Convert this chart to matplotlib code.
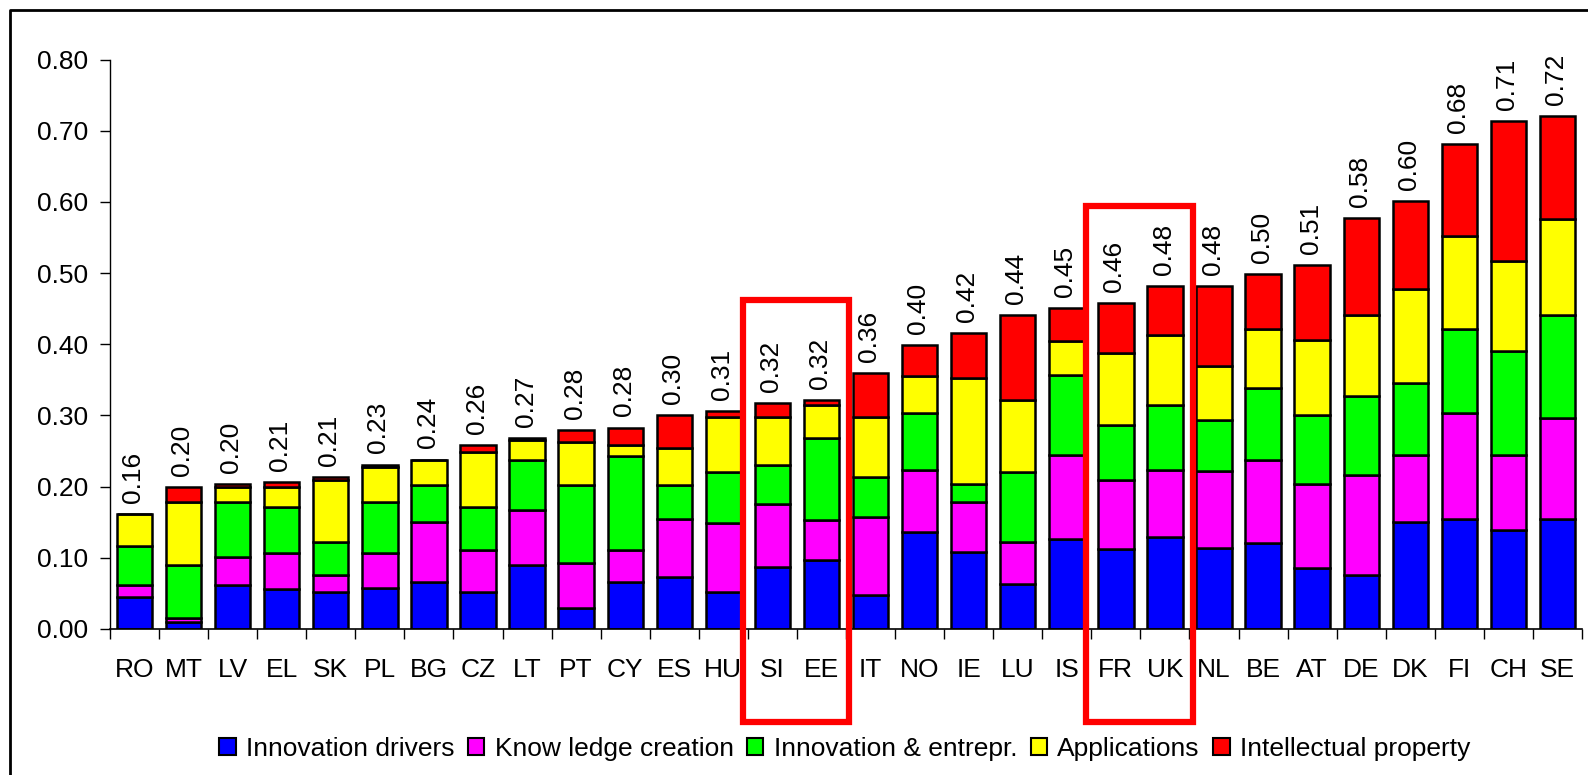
import matplotlib
matplotlib.use("Agg")
import matplotlib.pyplot as plt
import numpy as np
from matplotlib.patches import Patch, Rectangle
from matplotlib.lines import Line2D

plt.rcParams["font.family"] = ["Liberation Sans", "DejaVu Sans"]

countries = ["RO", "MT", "LV", "EL", "SK", "PL", "BG", "CZ", "LT", "PT",
             "CY", "ES", "HU", "SI", "EE", "IT", "NO", "IE", "LU", "IS",
             "FR", "UK", "NL", "BE", "AT", "DE", "DK", "FI", "CH", "SE"]

innovation_drivers = [0.045, 0.010, 0.062, 0.056, 0.052, 0.058, 0.066, 0.052, 0.090, 0.030,
                      0.066, 0.073, 0.052, 0.087, 0.097, 0.048, 0.136, 0.108, 0.063, 0.126,
                      0.112, 0.129, 0.114, 0.121, 0.086, 0.076, 0.150, 0.154, 0.139, 0.154]
knowledge_creation = [0.017, 0.005, 0.039, 0.051, 0.024, 0.049, 0.084, 0.059, 0.077, 0.063,
                      0.045, 0.081, 0.097, 0.088, 0.056, 0.109, 0.088, 0.070, 0.059, 0.119,
                      0.097, 0.095, 0.108, 0.116, 0.117, 0.141, 0.094, 0.150, 0.105, 0.143]
innovation_entrepr = [0.054, 0.075, 0.077, 0.064, 0.046, 0.071, 0.052, 0.060, 0.071, 0.109,
                      0.132, 0.048, 0.071, 0.055, 0.115, 0.056, 0.080, 0.025, 0.098, 0.112,
                      0.077, 0.090, 0.071, 0.102, 0.097, 0.111, 0.102, 0.118, 0.147, 0.144]
applications = [0.045, 0.088, 0.021, 0.029, 0.088, 0.050, 0.036, 0.077, 0.027, 0.060,
                0.015, 0.052, 0.078, 0.068, 0.046, 0.085, 0.052, 0.150, 0.102, 0.047,
                0.102, 0.099, 0.077, 0.083, 0.106, 0.113, 0.132, 0.130, 0.126, 0.135]
intellectual_property = [0.000, 0.021, 0.004, 0.007, 0.003, 0.003, 0.000, 0.011, 0.003, 0.018,
                         0.025, 0.046, 0.008, 0.020, 0.008, 0.062, 0.043, 0.063, 0.119, 0.047,
                         0.070, 0.069, 0.112, 0.077, 0.105, 0.136, 0.123, 0.129, 0.197, 0.145]

series_names = ["Innovation drivers", "Know ledge creation", "Innovation & entrepr.",
                "Applications", "Intellectual property"]
series_colors = ["#0000FF", "#FF00FF", "#00FF00", "#FFFF00", "#FF0000"]

# highlighted pairs of countries: (first, last, top of frame)
highlight_pairs = [("SI", "EE", 0.462), ("FR", "UK", 0.594)]

FS = 19

fig = plt.figure(figsize=(15.88, 7.75), dpi=100)
ax = fig.add_axes([110 / 1588, 1 - 629 / 775, 1472 / 1588, (629 - 59.5) / 775])

x = np.arange(len(countries))
bottom = np.zeros(len(countries))
series = [innovation_drivers, knowledge_creation, innovation_entrepr,
          applications, intellectual_property]
for vals, col in zip(series, series_colors):
    vals = np.array(vals)
    ax.bar(x, vals, width=0.72, bottom=bottom, color=col,
           edgecolor="black", linewidth=1.8, zorder=2)
    bottom += vals

for xi, total in zip(x, bottom):
    ax.annotate(f"{total:.2f}", (xi, total), xytext=(-1, 8), textcoords="offset points",
                rotation=90, ha="center", va="bottom", fontsize=FS)

ax.set_xlim(-0.5, len(countries) - 0.5)
ax.set_ylim(0, 0.8)
ax.set_yticks(np.arange(0, 0.81, 0.1))
ax.set_yticklabels([f"{v:.2f}" for v in np.arange(0, 0.81, 0.1)], fontsize=FS)
ax.tick_params(axis="y", direction="out", length=7, width=1, pad=9)

# ticks sit between categories, labels sit under the bars
ax.set_xticks(np.arange(-0.5, len(countries), 1.0))
ax.set_xticklabels([])
ax.set_xticks(x, minor=True)
ax.set_xticklabels(countries, minor=True, fontsize=FS)
ax.tick_params(axis="x", which="major", direction="out", length=7, width=1)
ax.tick_params(axis="x", which="minor", length=0, pad=21)

for side in ["top", "right"]:
    ax.spines[side].set_visible(False)
ax.spines["left"].set_linewidth(1)
ax.spines["bottom"].set_linewidth(1.2)

# red frames around the highlighted pairs
for a, b, top in highlight_pairs:
    i, j = countries.index(a), countries.index(b)
    left = i - 0.6
    right = j + 0.57
    ax.add_patch(Rectangle((left, -0.131), right - left, top + 0.131, fill=False,
                           edgecolor="#FF0000", linewidth=4.5, clip_on=False, zorder=5))

handles = [Patch(facecolor=c, edgecolor="black", linewidth=1.5) for c in series_colors]
fig.legend(handles, series_names, loc="center", bbox_to_anchor=(0.532, 0.034),
           ncol=5, frameon=False, fontsize=FS, handlelength=0.62, handleheight=0.6,
           handletextpad=0.4, columnspacing=0.5, borderpad=0)

# outer frame of the chart area
fig.add_artist(Line2D([10 / 1588, 10 / 1588, 1.0], [0.0, 1 - 9.5 / 775, 1 - 9.5 / 775],
                      transform=fig.transFigure, color="black", linewidth=2))

fig.savefig("out.png", dpi=100)
